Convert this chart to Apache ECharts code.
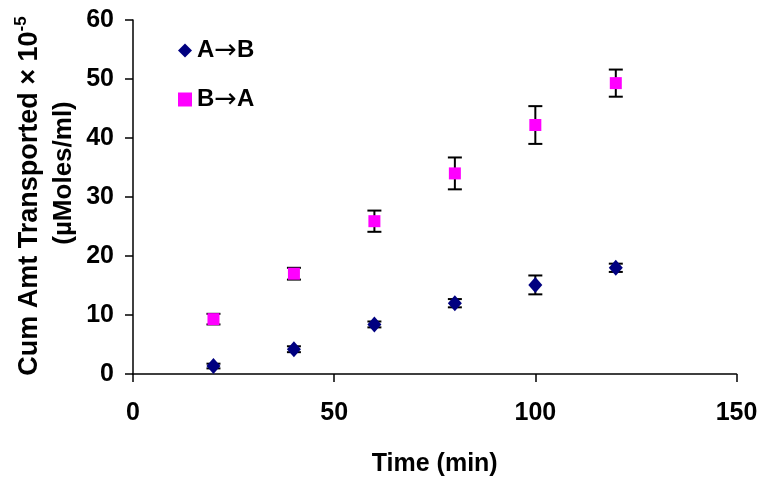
<!DOCTYPE html>
<html>
<head>
<meta charset="utf-8">
<script src="https://cdn.jsdelivr.net/npm/echarts@6/dist/echarts.min.js"></script>
<style>
html,body{margin:0;padding:0;background:#fff;}
#chart{width:768px;height:491px;}
</style>
</head>
<body>
<div id="chart"></div>
<script>
// ---- data ----
var times = [20, 40, 60, 80, 100, 120];
var seriesNames = ['A\u2192B', 'B\u2192A'];
var abValues = [1.35, 4.2, 8.4, 12.0, 15.1, 18.0];
var abErrors = [0.4, 0.5, 0.5, 0.7, 1.6, 0.7];
var baValues = [9.3, 17.0, 25.9, 34.0, 42.2, 49.3];
var baErrors = [0.9, 1.0, 1.8, 2.7, 3.2, 2.3];
var xTicks = [0, 50, 100, 150];
var yTicks = [0, 10, 20, 30, 40, 50, 60];
var xTitle = 'Time (min)';
var yTitleLine1 = 'Cum Amt Transported \u00d7 10';
var yTitleSup = '-5';
var yTitleLine2 = '(\u00b5Moles/ml)';

var FONT = '"Liberation Sans", Arial, sans-serif';

function pairs(vals) { return times.map(function (t, i) { return [t, vals[i]]; }); }
function errData(vals, errs) { return times.map(function (t, i) { return [t, vals[i] - errs[i], vals[i] + errs[i]]; }); }

function errorRender(params, api) {
  var x = api.value(0), lo = api.value(1), hi = api.value(2);
  var pLo = api.coord([x, lo]), pHi = api.coord([x, hi]);
  var w = 7;
  var st = { stroke: '#000', lineWidth: 2 };
  return {
    type: 'group',
    children: [
      { type: 'line', shape: { x1: pLo[0], y1: pLo[1], x2: pHi[0], y2: pHi[1] }, style: st },
      { type: 'line', shape: { x1: pLo[0] - w, y1: pLo[1], x2: pLo[0] + w, y2: pLo[1] }, style: st },
      { type: 'line', shape: { x1: pHi[0] - w, y1: pHi[1], x2: pHi[0] + w, y2: pHi[1] }, style: st }
    ]
  };
}

var chart = echarts.init(document.getElementById('chart'));
var axisLabelStyle = { color: '#000', fontFamily: FONT, fontWeight: 'bold', fontSize: 25 };
chart.setOption({
  animation: false,
  backgroundColor: '#fff',
  grid: { left: 133, right: 31.5, top: 20, bottom: 117 },
  xAxis: {
    type: 'value', min: xTicks[0], max: xTicks[xTicks.length - 1], interval: 50,
    axisLine: { show: true, lineStyle: { color: '#000', width: 1.5 } },
    axisTick: { show: true, inside: false, length: 8, lineStyle: { color: '#000', width: 1.5 } },
    axisLabel: Object.assign({ margin: 27 }, axisLabelStyle),
    splitLine: { show: false }
  },
  yAxis: {
    type: 'value', min: yTicks[0], max: yTicks[yTicks.length - 1], interval: 10,
    axisLine: { show: true, lineStyle: { color: '#000', width: 1.5 } },
    axisTick: { show: true, inside: false, length: 8, lineStyle: { color: '#000', width: 1.5 } },
    axisLabel: Object.assign({ margin: 19 }, axisLabelStyle),
    splitLine: { show: false }
  },
  legend: {
    orient: 'vertical', left: 173, top: 32, itemWidth: 14, itemHeight: 14, itemGap: 22,
    formatter: function (name) {
      var parts = name.split('\u2192');
      return '{b|' + parts[0] + '}{arr|\u2192}{b|' + parts[1] + '}';
    },
    textStyle: {
      color: '#000', fontFamily: FONT, fontWeight: 'bold', fontSize: 24,
      rich: {
        b: { color: '#000', fontFamily: FONT, fontWeight: 'bold', fontSize: 24 },
        arr: { color: '#000', fontFamily: '"DejaVu Sans", sans-serif', fontWeight: 'normal', fontSize: 27 }
      }
    },
    data: [{ name: seriesNames[0], icon: 'diamond' }, { name: seriesNames[1], icon: 'rect' }]
  },
  graphic: [
    {
      type: 'text', x: 28, y: 196, rotation: Math.PI / 2,
      style: {
        text: '{m|' + yTitleLine1 + '}{s|' + yTitleSup + '}',
        align: 'center', verticalAlign: 'middle',
        rich: {
          m: { fontFamily: FONT, fontWeight: 'bold', fontSize: 27, fill: '#000', verticalAlign: 'bottom', lineHeight: 31 },
          s: { fontFamily: FONT, fontWeight: 'bold', fontSize: 17, fill: '#000', verticalAlign: 'top', lineHeight: 31 }
        }
      }
    },
    {
      type: 'text', x: 64, y: 173, rotation: Math.PI / 2,
      style: {
        text: yTitleLine2, align: 'center', verticalAlign: 'middle',
        fontFamily: FONT, fontWeight: 'bold', fontSize: 26, fill: '#000'
      }
    },
    {
      type: 'text', x: 434.7, y: 464,
      style: {
        text: xTitle, align: 'center', verticalAlign: 'middle',
        fontFamily: FONT, fontWeight: 'bold', fontSize: 25, fill: '#000'
      }
    }
  ],
  series: [
    {
      name: seriesNames[0] + ' err', type: 'custom', renderItem: errorRender,
      data: errData(abValues, abErrors), z: 1, silent: true
    },
    {
      name: seriesNames[1] + ' err', type: 'custom', renderItem: errorRender,
      data: errData(baValues, baErrors), z: 1, silent: true
    },
    {
      name: seriesNames[0], type: 'scatter', symbol: 'diamond', symbolSize: [14, 16],
      itemStyle: { color: '#000080', opacity: 1 }, data: pairs(abValues), z: 3
    },
    {
      name: seriesNames[1], type: 'scatter', symbol: 'rect', symbolSize: 12,
      itemStyle: { color: '#FF00FF', opacity: 1 }, data: pairs(baValues), z: 3
    }
  ]
});
</script>
</body>
</html>
